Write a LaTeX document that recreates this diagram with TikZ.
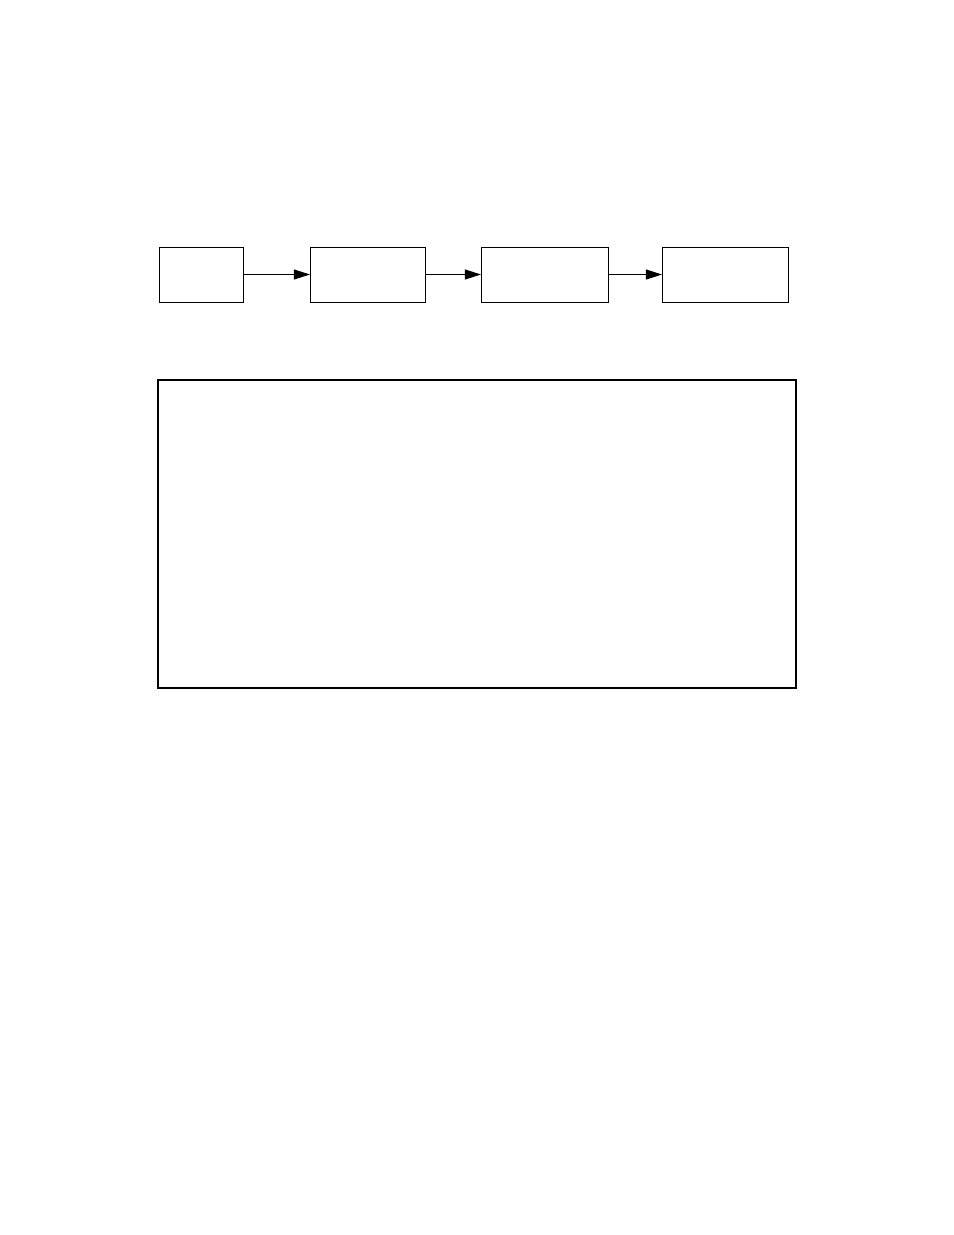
\documentclass[tikz,border=0pt]{standalone}
\usetikzlibrary{arrows.meta}
\begin{document}
\begin{tikzpicture}[x=0.6415pt,y=-0.6415pt,
  stagebox/.style={draw=black,line width=0.6pt,rectangle,minimum height=35.3pt,inner sep=0pt,outer sep=0pt},
  bigbox/.style={draw=black,line width=1.4pt,rectangle,inner sep=0pt,outer sep=0pt,minimum width=409.3pt,minimum height=197.6pt},
  flow/.style={line width=0.6pt,-{Triangle[length=10.3pt,width=6.4pt]}}]
\useasboundingbox (0,0) rectangle (954,1235);
\node[stagebox,minimum width=53.9pt] (b1) at (201,274.5) {};
\node[stagebox,minimum width=73.8pt] (b2) at (367.5,274.5) {};
\node[stagebox,minimum width=81.5pt] (b3) at (544.5,274.5) {};
\node[stagebox,minimum width=80.8pt] (b4) at (725,274.5) {};
\node[bigbox] (big) at (477,534) {};
\draw[flow] (b1.east) -- (b2.west);
\draw[flow] (b2.east) -- (b3.west);
\draw[flow] (b3.east) -- (b4.west);
\end{tikzpicture}
\end{document}
